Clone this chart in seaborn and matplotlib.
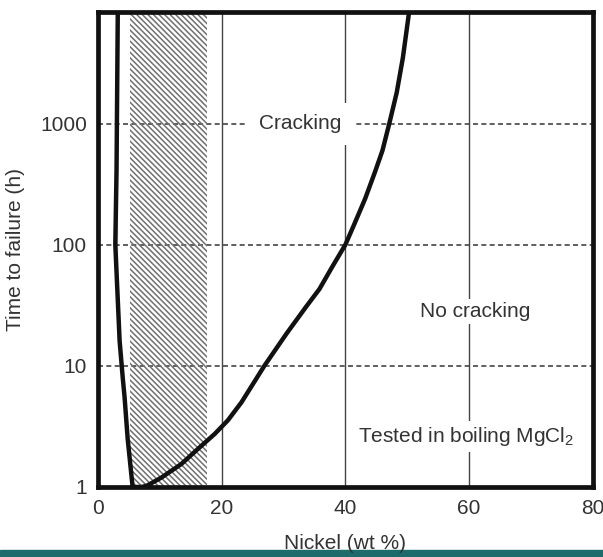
import matplotlib
matplotlib.use('Agg')
import seaborn as sns
import matplotlib.pyplot as plt
import pandas as pd
from matplotlib.patches import Rectangle

# boundary curve (Nickel wt %, time to failure h)
nickel = [3.2, 3.0, 2.8, 3.0, 3.5, 4.0, 4.3, 4.8, 5.6, 7.1,
          8.0, 10.3, 13.5, 16.1, 18.9, 21.0, 23.2, 26.9, 30.5, 33.7,
          35.8, 37.9, 40.0, 41.5, 43.2, 44.8, 46.0, 47.1, 48.3, 49.3, 50.3]
hours = [8300, 800, 100, 40, 16, 8, 5.5, 2.5, 1.0, 1.0,
         1.03, 1.2, 1.55, 2.05, 2.75, 3.55, 5.0, 10, 18.5, 31,
         43, 66, 100, 150, 240, 400, 600, 1000, 1800, 3500, 8300]

band = (5.2, 17.7)            # hatched zone
x_grid = [20, 40, 60]
y_grid = [10, 100, 1000]
x_ticks = [0, 20, 40, 60, 80]
y_ticks = [1, 10, 100, 1000]
y_tick_labels = ['1', '10', '100', '1000']

sns.set_theme(style='white')
plt.rcParams['font.family'] = ['Liberation Sans', 'DejaVu Sans']
plt.rcParams['mathtext.fontset'] = 'custom'
plt.rcParams['mathtext.rm'] = 'Liberation Sans'
plt.rcParams['hatch.linewidth'] = 1.1

fig = plt.figure(figsize=(6.03, 5.57), dpi=100)
ax = fig.add_axes([0.1625, 0.1257, 0.8205, 0.8523])

text_col = '#333333'

for xv in x_grid:
    ax.axvline(xv, color='#444444', lw=1.0, zorder=1)
for yv in y_grid:
    ax.axhline(yv, color='#444444', lw=1.2, ls=(0, (3, 2)), zorder=1)

ax.axvspan(band[0], band[1], facecolor='none', edgecolor='#707070',
           hatch='\\' * 6, linewidth=0, zorder=2)

df = pd.DataFrame({'nickel': nickel, 'hours': hours})
sns.lineplot(data=df, x='nickel', y='hours', sort=False, color='#111111',
             lw=3.2, ax=ax, zorder=5)

ax.set_yscale('log')
ax.set_xlim(0, 79.6)
ax.set_ylim(1, 8300)
ax.set_xticks(x_ticks)
ax.set_yticks(y_ticks)
ax.set_yticklabels(y_tick_labels)
ax.minorticks_off()
ax.tick_params(axis='both', length=0, labelsize=15, labelcolor=text_col)
ax.tick_params(axis='x', pad=9)
ax.tick_params(axis='y', pad=8)

ax.text(32.7, 1000, 'Cracking', fontsize=15, color=text_col,
        ha='center', va='center', zorder=4,
        bbox=dict(boxstyle='square,pad=0.55', fc='white', ec='none'))
ax.text(61, 28, 'No cracking', fontsize=15, color=text_col,
        ha='center', va='center', zorder=4,
        bbox=dict(boxstyle='square,pad=0.15', fc='white', ec='none'))
ax.text(59.5, 2.6, r'Tested in boiling MgCl$_\mathregular{2}$', fontsize=15,
        color=text_col, ha='center', va='center', zorder=4,
        bbox=dict(boxstyle='square,pad=0.2', fc='white', ec='none'))

ax.set_xlabel('Nickel (wt %)', fontsize=15, color=text_col, labelpad=11)
ax.set_ylabel('Time to failure (h)', fontsize=15, color=text_col, labelpad=11)

for s in ax.spines.values():
    s.set_visible(True)
    s.set_color('#111111')
    s.set_linewidth(3.4)
    s.set_zorder(6)

# teal strip along the bottom edge of the slide
fig.add_artist(Rectangle((0, 0), 1, 7 / 557, transform=fig.transFigure,
                         color='#1d6b6a', zorder=-5))

plt.savefig('out.png', dpi=100)
